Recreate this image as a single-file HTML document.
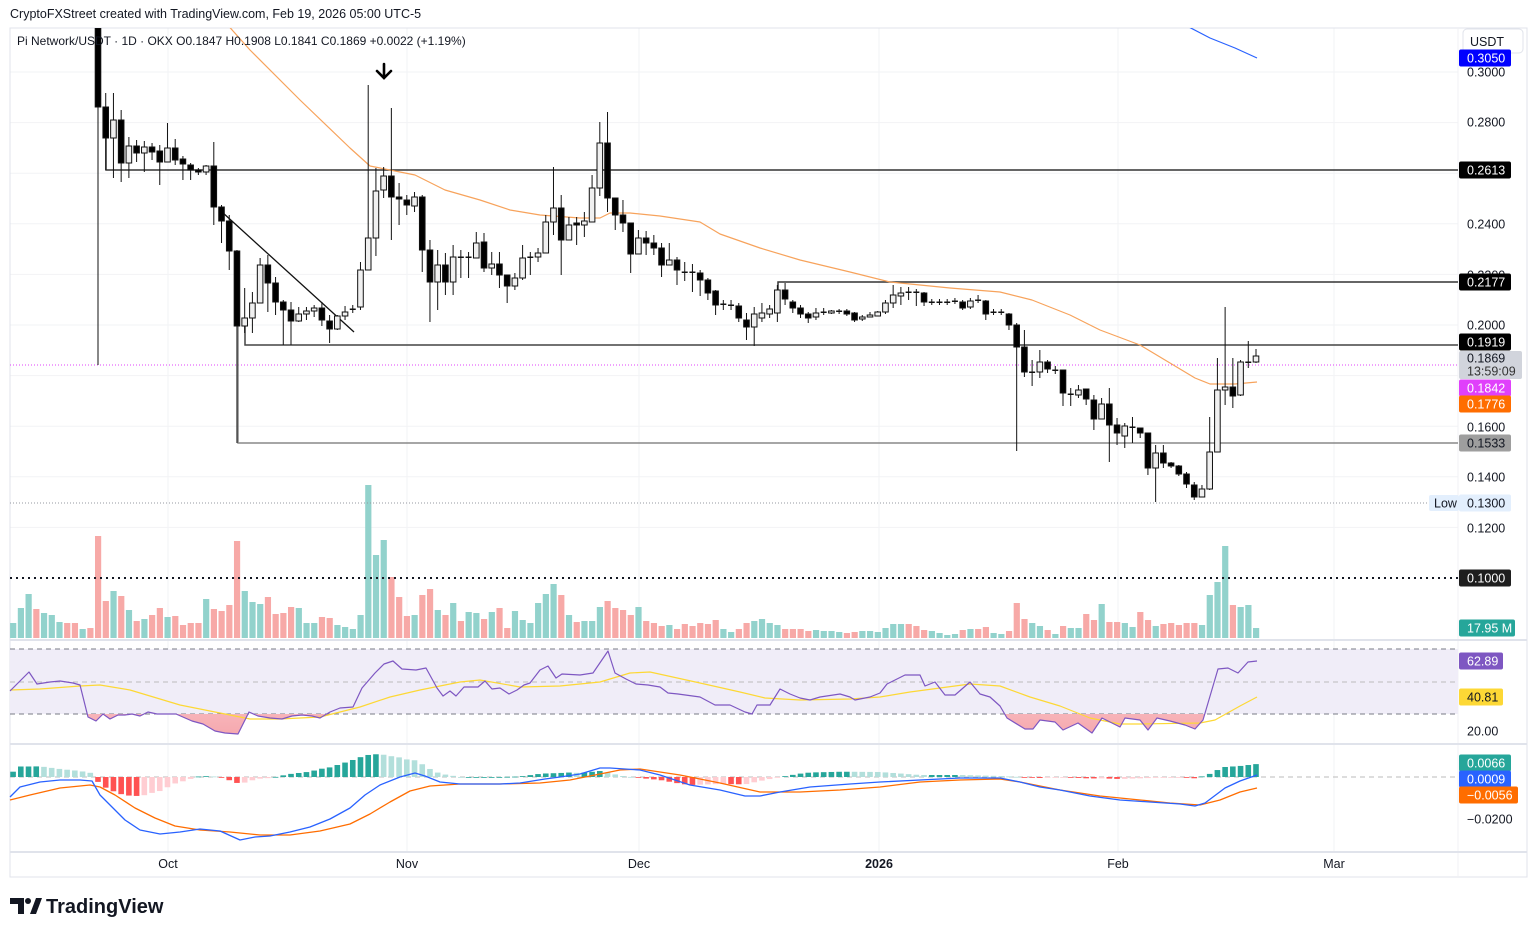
<!DOCTYPE html>
<html><head><meta charset="utf-8"><style>
html,body{margin:0;padding:0;background:#fff;}
body{width:1536px;height:934px;overflow:hidden;font-family:"Liberation Sans",Arial,sans-serif;}
svg{display:block}
</style></head><body>
<svg id="s" width="1536" height="934" xmlns="http://www.w3.org/2000/svg" font-family="Liberation Sans, Arial, sans-serif"></svg>
<script>
const S=document.getElementById('s');let h='';
const X=i=>98+7.72*i;
h+='<rect x="0" y="0" width="1536" height="934" fill="#fff"/>';
[72,122.6,173.2,223.8,274.4,325,375.6,426.2,476.8,527.4].forEach(y=>h+=`<line x1="10" x2="1458" y1="${y}" y2="${y}" stroke="#f2f3f5"/>`);
[168,407,639,879,1118,1334].forEach(x=>h+=`<line x1="${x}" x2="${x}" y1="28" y2="852" stroke="#f2f3f5"/>`);
h+='<rect x="10" y="28" width="1517" height="849" fill="none" stroke="#e0e3eb"/>';
h+='<line x1="1458" x2="1458" y1="28" y2="877" stroke="#f0f1f4"/>';
[640,744,852].forEach(y=>h+=`<line x1="10" x2="1527" y1="${y}" y2="${y}" stroke="#e0e3eb" stroke-width="2"/>`);
const C=[[28,20,365,107],[107,93,170,138],[138,93,178,120],[120,110,182,163],[163,137,178,146],[146,140,162,153],[153,141,172,147],[147,143,160,152],[151,145,185,162],[162,123,162,148],[148,139,165,160],[159,156,180,164],[165,163,180,170],[170,168,175,172],[172,165,175,166],[166,142,225,207],[207,205,243,221],[221,215,270,251],[251,250,443,326],[326,288,333,318],[318,292,333,303],[303,258,303,265],[265,255,312,283],[283,277,315,302],[302,300,345,310],[310,302,345,321],[321,307,322,314],[314,307,320,311],[311,305,317,308],[308,302,326,320],[321,315,343,329],[329,315,330,316],[316,306,320,312],[310,305,313,309],[307,262,310,270],[270,85,270,238],[238,168,256,191],[190,167,198,176],[176,108,240,197],[197,183,225,199],[200,195,215,205],[206,192,212,197],[197,195,272,250],[250,240,322,282],[282,250,310,265],[265,253,295,282],[282,245,295,257],[257,250,278,258],[258,252,278,257],[258,232,258,243],[242,233,272,268],[268,252,275,264],[264,252,288,275],[275,275,303,286],[286,273,290,278],[278,245,280,258],[258,252,275,257],[257,248,262,253],[253,215,253,222],[222,167,235,208],[208,195,275,240],[240,217,240,225],[223,217,245,225],[225,212,237,221],[222,175,222,188],[188,122,196,143],[143,112,212,198],[198,198,230,215],[215,200,232,223],[223,223,273,254],[254,230,254,238],[238,231,255,243],[243,235,255,248],[248,243,277,265],[265,243,265,260],[260,257,285,270],[272,262,281,273],[272,264,292,273],[273,270,296,280],[280,278,300,293],[291,290,315,305],[304,300,310,304],[305,300,310,305],[306,303,322,318],[320,313,340,327],[327,307,346,314],[318,303,322,313],[314,305,318,309],[313,285,322,290],[290,283,305,299],[302,300,313,308],[308,305,318,314],[314,312,323,318],[317,308,320,313],[313,308,315,312],[313,310,314,311],[312,309,314,311],[311,309,316,314],[313,312,322,320],[319,315,321,317],[317,312,317,315],[316,311,316,312],[312,300,314,303],[303,285,308,295],[296,287,305,293],[292,287,300,293],[292,289,306,293],[293,292,306,302],[302,299,305,302],[302,299,305,302],[302,299,305,302],[301,298,304,301],[302,300,310,308],[307,298,309,301],[300,295,303,301],[301,300,320,314],[312,309,315,312],[312,309,315,312],[314,313,330,325],[325,323,451,347],[347,330,377,372],[372,360,386,372],[372,350,378,362],[362,360,373,369],[370,366,374,370],[370,370,406,393],[394,388,406,394],[395,385,398,390],[389,389,405,399],[400,395,430,419],[419,398,419,404],[404,388,462,425],[425,418,445,433],[436,423,448,426],[427,417,443,427],[428,428,438,433],[433,433,475,468],[468,445,502,453],[453,445,468,463],[463,462,468,466],[466,465,476,474],[474,472,488,484],[485,482,500,497],[497,485,497,489],[489,417,490,452],[452,358,452,390],[390,307,405,387],[387,358,408,396],[395,360,396,362],[362,341,368,362],[362,349,363,356]];
const preV=[[623,1],[608,1],[594,1],[609,0],[613,1],[615,1],[622,1],[623,0],[623,0],[629,1],[628,0]];
const V=[536,601,591,596,610,621,619,615,608,617,616,625,623,623,599,609,611,605,541,591,602,604,597,614,613,607,608,623,623,617,618,625,627,629,615,485,555,540,577,597,616,615,595,589,610,615,603,621,612,613,619,612,608,628,611,620,623,603,594,584,595,615,622,621,621,607,601,608,610,615,607,621,623,626,625,629,624,626,623,624,620,629,632,629,623,621,619,623,625,629,629,629,631,630,631,631,632,633,632,631,631,632,628,624,624,624,626,630,631,633,635,634,630,629,629,627,633,634,631,603,619,623,626,630,634,626,628,628,614,620,604,622,622,623,627,612,620,626,624,623,625,623,623,625,595,582,546,605,607,605,628];
const T='#92d2cc',R='#f7a9a7';
preV.forEach((v,k)=>{const x=X(k-11);h+=`<rect x="${x-3}" y="${v[0]}" width="6.2" height="${638-v[0]}" fill="${v[1]?T:R}"/>`;});
V.forEach((v,i)=>{const c=C[i];const up=c[3]<=c[0];h+=`<rect x="${X(i)-3}" y="${v}" width="6.2" height="${638-v}" fill="${up?T:R}"/>`;});
h+='<line x1="10" x2="1458" y1="503" y2="503" stroke="#9598a1" stroke-dasharray="1,2"/>';
h+='<line x1="10" x2="1458" y1="578" y2="578" stroke="#131722" stroke-width="2" stroke-dasharray="2,4"/>';
h+='<line x1="10" x2="1458" y1="365" y2="365" stroke="#e040fb" stroke-dasharray="1,2"/>';
h+='<polyline points="106,107 106,170 1458,170" fill="none" stroke="#333" stroke-width="1.5"/>';
h+='<polyline points="778,290 778,282 1458,282" fill="none" stroke="#333" stroke-width="1.5"/>';
h+='<polyline points="245,318 245,345 1458,345" fill="none" stroke="#444" stroke-width="1.5"/>';
h+='<polyline points="238,326 238,443 1458,443" fill="none" stroke="#888" stroke-width="1.5"/>';
h+='<line x1="222" y1="212" x2="354" y2="332" stroke="#111" stroke-width="1.3"/>';
const pl=(p,col,w)=>`<polyline points="${p.map(a=>a.join(',')).join(' ')}" fill="none" stroke="${col}" stroke-width="${w}" stroke-linejoin="round"/>`;
h+='<clipPath id="mp"><rect x="10" y="28" width="1448" height="612"/></clipPath><g clip-path="url(#mp)">';
h+=pl([[225,22],[250,50],[300,100],[350,148],[370,166],[400,172],[415,175],[445,190],[480,200],[510,210],[540,215],[580,218],[600,218],[610,213],[630,213],[660,216],[700,222],[720,234],[760,248],[800,260],[850,272],[890,282],[950,288],[1000,292],[1032,300],[1070,315],[1100,330],[1140,345],[1175,366],[1195,378],[1210,384],[1235,384],[1257,382]],'#f7a35c',1.2);
h+=pl([[1185,25],[1210,38],[1235,48],[1257,58]],'#2962ff',1.2);
C.forEach((c,i)=>{const x=X(i),[o,hi,lo,cl]=c;const up=cl<o;const t=Math.min(o,cl),b=Math.max(o,cl);
h+=`<line x1="${x}" x2="${x}" y1="${hi}" y2="${lo}" stroke="#111" stroke-width="1"/>`;
if(b-t<1.5)h+=`<rect x="${x-3}" y="${t-0.5}" width="6" height="1.5" fill="#111"/>`;
else h+=`<rect x="${x-2.8}" y="${t}" width="5.6" height="${b-t}" fill="${up?'#f0f0f0':'#000'}" stroke="#111" stroke-width="1"/>`;});
h+='</g>';
h+='<path d="M384 64V78M377 71L384 78L391 71" fill="none" stroke="#000" stroke-width="2.6" stroke-linecap="round"/>';
// RSI
h+='<rect x="10" y="649" width="1448" height="65" fill="#f0edf8"/>';
[649,714].forEach(y=>h+=`<line x1="10" x2="1458" y1="${y}" y2="${y}" stroke="#787b86" stroke-dasharray="5,4"/>`);
h+='<line x1="10" x2="1458" y1="682" y2="682" stroke="#bbb" stroke-dasharray="5,4"/>';
const rsi=[[10,691],[29,672],[37,684],[50,682],[60,681],[73,683],[80,685],[88,717],[96,721],[103,714],[110,719],[118,715],[125,715],[132,714],[140,716],[148,712],[157,714],[176,714],[192,721],[203,724],[215,731],[225,733],[238,734],[249,712],[258,716],[270,718],[282,719],[292,716],[302,715],[312,716],[320,718],[330,712],[340,708],[353,707],[362,688],[375,673],[384,664],[393,661],[402,669],[416,670],[426,668],[437,688],[443,696],[450,691],[456,696],[464,687],[478,687],[485,681],[492,689],[500,688],[509,694],[517,690],[524,685],[530,683],[540,670],[548,666],[556,678],[562,674],[580,675],[593,673],[608,651],[615,673],[626,679],[636,684],[648,685],[660,687],[668,693],[678,694],[700,697],[715,705],[730,705],[745,712],[752,714],[757,705],[770,705],[780,689],[790,694],[800,698],[810,700],[820,697],[840,694],[850,697],[855,700],[870,697],[880,693],[887,684],[897,679],[905,675],[920,675],[925,686],[935,682],[945,695],[955,695],[970,682],[980,694],[990,697],[1000,706],[1007,718],[1025,729],[1033,729],[1040,720],[1055,722],[1063,730],[1078,723],[1092,733],[1102,718],[1120,727],[1125,718],[1140,720],[1148,730],[1157,718],[1170,721],[1185,725],[1195,729],[1203,720],[1218,669],[1228,668],[1238,673],[1248,662],[1257,661]];
h+='<linearGradient id="pg" x1="0" y1="0" x2="0" y2="1"><stop offset="0" stop-color="#fbd5d8"/><stop offset="1" stop-color="#f6a9af"/></linearGradient>';
h+='<clipPath id="os"><rect x="10" y="714" width="1448" height="30"/></clipPath>';
h+=`<polygon clip-path="url(#os)" points="10,714 ${rsi.map(a=>a.join(',')).join(' ')} 1257,714" fill="url(#pg)"/>`;
h+=pl([[10,690],[40,689],[80,686],[100,685],[130,690],[180,705],[220,713],[250,719],[280,719],[320,717],[360,707],[390,697],[420,690],[460,682],[480,680],[520,687],[560,686],[600,682],[630,673],[650,672],[700,683],[740,692],[765,698],[800,700],[850,699],[880,697],[910,692],[940,688],[970,684],[1000,686],[1030,697],[1060,706],[1090,718],[1120,724],[1140,724],[1200,723],[1215,720],[1240,706],[1257,697]],'#fdd835',1.2);
h+=pl(rsi,'#7e57c2',1.2);
// MACD
h+='<line x1="10" x2="1458" y1="777" y2="777" stroke="#bbb" stroke-dasharray="5,4"/>';
const bl=[[10,797],[20,787],[40,782],[60,780],[80,780],[92,781],[100,795],[110,805],[125,820],[140,830],[160,834],[180,832],[200,829],[220,831],[240,840],[255,837],[270,836],[290,832],[310,827],[330,819],[350,808],[365,795],[380,785],[400,777],[415,773],[425,776],[440,782],[460,784],[500,784],[520,783],[545,779],[560,777],[580,774],[600,768],[610,768],[640,770],[660,775],[690,785],[720,790],[745,796],[760,796],[780,792],[810,787],[850,784],[880,782],[920,780],[960,778],[1000,778],[1020,782],[1040,787],[1060,790],[1090,796],[1120,800],[1150,802],[1180,804],[1195,806],[1205,803],[1225,788],[1240,781],[1257,775]];
const or=[[10,800],[30,795],[60,788],[90,785],[100,787],[115,795],[135,808],[155,818],[175,826],[200,830],[230,832],[260,835],[290,835],[320,831],[350,824],[370,814],[390,802],[410,791],[430,786],[460,784],[500,784],[540,783],[570,780],[600,774],[620,770],[640,769],[680,775],[720,783],[760,792],[800,792],[840,790],[880,787],[920,782],[960,780],[1000,779],[1020,782],[1060,790],[1100,796],[1140,800],[1170,803],[1200,805],[1220,800],[1240,792],[1257,788]];
const ip=(p,x)=>{for(let k=1;k<p.length;k++)if(x<=p[k][0]){const a=p[k-1],b=p[k];return a[1]+(b[1]-a[1])*(x-a[0])/(b[0]-a[0]);}return p[p.length-1][1];};
let prev=0;
for(let i=-11;i<=150;i++){const x=X(i);const v=ip(or,x)-ip(bl,x);let col;
if(v>=0)col=v>=prev?'#26a69a':'#b2dfdb';else col=v<=prev?'#ff5252':'#ffcdd2';prev=v;
const y=v>=0?777-v:777;h+=`<rect x="${x-2.8}" y="${y}" width="5.6" height="${Math.max(Math.abs(v),0.8)}" fill="${col}"/>`;}
h+=pl(or,'#ff6d00',1.3);h+=pl(bl,'#2962ff',1.3);
const tl=(y,t,fill='#131722')=>h+=`<text x="1467" y="${y+4.5}" font-size="12.5" fill="${fill}">${t}</text>`;
const tag=(y,t,bg,fg='#fff',w=52)=>{h+=`<rect x="1459" y="${y-8.5}" width="${w}" height="17" rx="2" fill="${bg}"/>`;tl(y,t,fg);};
h+='<rect x="1463" y="29" width="60" height="24" rx="4" fill="#fff" stroke="#e0e3eb"/><text x="1470" y="46" font-size="12.5" fill="#131722">USDT</text>';
tag(58,'0.3050','#0000ff');
tl(72,'0.3000');tl(122,'0.2800');tl(224,'0.2400');tl(275,'0.2200');tl(325,'0.2000');tl(427,'0.1600');tl(477,'0.1400');tl(528,'0.1200');tl(731,'20.00');tl(819,'−0.0200');
tag(170,'0.2613','#000');tag(282,'0.2177','#000');tag(342,'0.1919','#000');
h+='<rect x="1459" y="351" width="63" height="28" rx="2" fill="#d1d4dc"/>';tl(358,'0.1869');tl(371,'13:59:09','#333');
tag(388,'0.1842','#e040fb');tag(404,'0.1776','#ff6d00');tag(443,'0.1533','#9e9e9e','#131722');
h+='<rect x="1429" y="495" width="30" height="16" rx="2" fill="#e3effd"/><text x="1434" y="507.5" font-size="12.5" fill="#131722">Low</text>';
tag(503,'0.1300','#e3effd','#131722');tag(578,'0.1000','#1e1e1e');tag(628,'17.95 M','#26a69a','#fff',56);
tag(661,'62.89','#7e57c2','#fff',44);tag(697,'40.81','#fdd835','#131722',44);
tag(763,'0.0066','#26a69a');tag(779,'0.0009','#2962ff');tag(795,'−0.0056','#ff6d00','#fff',59);
[['Oct',168],['Nov',407],['Dec',639],['2026',879],['Feb',1118],['Mar',1334]].forEach(([t,x])=>h+=`<text x="${x}" y="868" font-size="12.5" text-anchor="middle" fill="#131722" ${t=='2026'?'font-weight="bold"':''}>${t}</text>`);
h+='<text x="10" y="18" font-size="12.5" fill="#131722">CryptoFXStreet created with TradingView.com, Feb 19, 2026 05:00 UTC-5</text>';
h+='<text x="17" y="45" font-size="12" fill="#131722">Pi Network/USDT · 1D · OKX  O0.1847  H0.1908  L0.1841  C0.1869  +0.0022 (+1.19%)</text>';
h+='<path d="M10 898h14v16h-6v-10h-8z" fill="#131722"/><circle cx="28" cy="901" r="3" fill="#131722"/><path d="M30 914l6-16h6l-6 16z" fill="#131722"/>';
h+='<text x="46" y="913" font-size="20" font-weight="bold" fill="#131722">TradingView</text>';
S.innerHTML=h;
</script>
</body></html>
